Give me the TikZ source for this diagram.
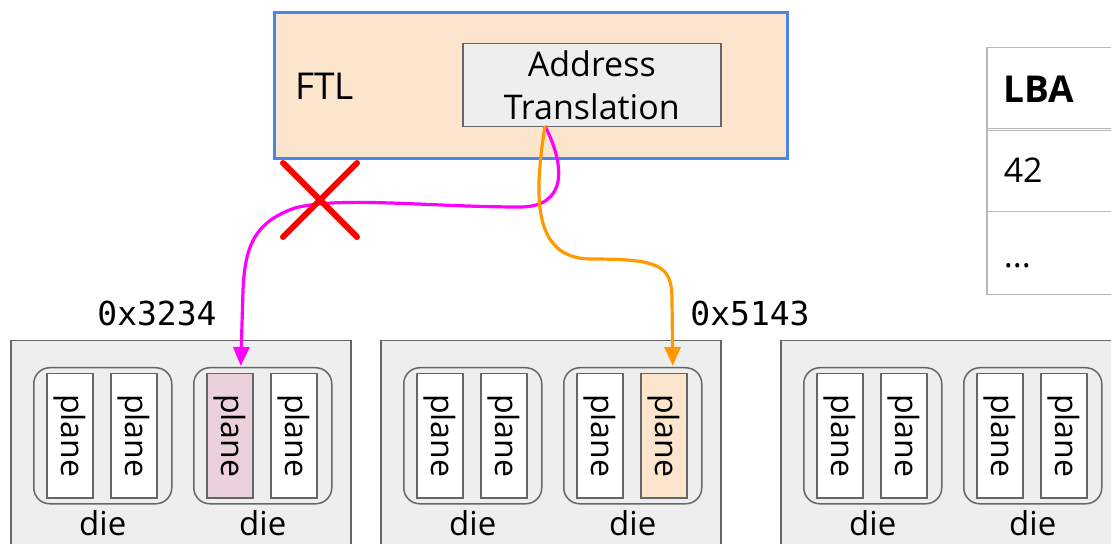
\documentclass[tikz,border=0pt]{standalone}
\usepackage{fontspec}
\setmainfont{Open Sans}
\setmonofont{DejaVu Sans Mono}
\usetikzlibrary{arrows.meta,calc}

\definecolor{ftlfill}{HTML}{FCE5CD}
\definecolor{ftlline}{HTML}{4A86E8}
\definecolor{boxfill}{HTML}{EEEEEE}
\definecolor{boxline}{HTML}{666666}
\definecolor{hitpink}{HTML}{EAD1DC}
\definecolor{tabline}{HTML}{B7B7B7}
\definecolor{oldmap}{HTML}{FF00FF}
\definecolor{newmap}{HTML}{FF9900}

\tikzset{
  chip/.style={draw=boxline, fill=boxfill, line width=0.75pt, minimum width=170pt,
    minimum height=115pt, anchor=north west, inner sep=0pt},
  die/.style={draw=boxline, rounded corners=8pt, line width=0.75pt, minimum width=69pt,
    minimum height=68pt, anchor=north west, inner sep=0pt,
    label={[font=\fontsize{16.5}{19}\selectfont, inner sep=0pt, label distance=3pt]below:die}},
  plane/.style={draw=boxline, fill=white, line width=0.75pt, minimum width=23pt,
    minimum height=62pt, anchor=north west, inner sep=0pt,
    font=\fontsize{16}{18}\selectfont},
  cell/.style={draw=tabline, line width=0.75pt, anchor=north west, text width=60pt,
    minimum height=41.5pt, inner xsep=8.5pt, align=left, font=\fontsize{17}{20}\selectfont},
  addr/.style={font=\ttfamily\fontsize{16.5}{20}\selectfont},
  flow/.style={line width=1.6pt, -{Triangle[length=9.5pt,width=8pt]}},
  cross/.style={draw=red, line width=3pt, line cap=round}
}

\begin{document}
\begin{tikzpicture}[x=0.5pt,y=-0.5pt]
\useasboundingbox (0,0) rectangle (1111,544);

% FTL
\node[draw=ftlline, fill=ftlfill, line width=1.5pt, anchor=north west, inner sep=0pt,
  minimum width=256.5pt, minimum height=73pt] (ftl) at (273,11) {};
\node[anchor=west, font=\fontsize{18.5}{22}\selectfont] (ftltext) at (288,86) {FTL};
\node[draw=boxline, fill=boxfill, line width=0.75pt, anchor=north west, inner sep=0pt,
  minimum width=129pt, minimum height=41.5pt, align=center,
  font=\fontsize{17}{21.5}\selectfont] (at) at (462,43) {Address\\Translation};
\coordinate (src) at (545,126);

% LBA table
\node[cell] (lba) at (986,47) {\fontsize{18.5}{20}\selectfont\textbf{LBA}};
\node[cell] (lba42) at (986,128) {42};
\node[cell, text height=14pt, text depth=0pt] (lbamore) at (986,211) {...};

% chips
\node[chip] (c1) at (10,340) {};
\node[chip] (c2) at (380,340) {};
\node[chip] (c3) at (780,340) {};

\node[die] (d11) at (33,367) {};
\node[die] (d12) at (193,367) {};
\node[die] (d21) at (403,367) {};
\node[die] (d22) at (563,367) {};
\node[die] (d31) at (803,367) {};
\node[die] (d32) at (963,367) {};

\node[plane] (p111) at (46,373) {\rotatebox{-90}{plane}};
\node[plane] (p112) at (110,373) {\rotatebox{-90}{plane}};
\node[plane, fill=hitpink] (p121) at (206,373) {\rotatebox{-90}{plane}};
\node[plane] (p122) at (270,373) {\rotatebox{-90}{plane}};
\node[plane] (p211) at (416,373) {\rotatebox{-90}{plane}};
\node[plane] (p212) at (480,373) {\rotatebox{-90}{plane}};
\node[plane] (p221) at (576,373) {\rotatebox{-90}{plane}};
\node[plane, fill=ftlfill] (p222) at (640,373) {\rotatebox{-90}{plane}};
\node[plane] (p311) at (816,373) {\rotatebox{-90}{plane}};
\node[plane] (p312) at (880,373) {\rotatebox{-90}{plane}};
\node[plane] (p321) at (976,373) {\rotatebox{-90}{plane}};
\node[plane] (p322) at (1040,373) {\rotatebox{-90}{plane}};

\node[addr] (old) at (157,313) {0x3234};
\node[addr] (new) at (750,313) {0x5143};

% mappings
\draw[flow, oldmap] (src) .. controls (565,165) and (568,207) .. (520,207)
  .. controls (430,207) and (340,196) .. (295,208)
  .. controls (255,222) and (245,245) .. (243,290) -- ($(p121.north)+(11,-7)$);
\draw[flow, newmap] (src) .. controls (535,190) and (530,258) .. (590,259)
  .. controls (660,259) and (672,265) .. (672,300) -- ($(p222.north)+(9,-7)$);

\draw[cross] (283,163) -- (357,237);
\draw[cross] (357,163) -- (283,237);
\end{tikzpicture}
\end{document}
